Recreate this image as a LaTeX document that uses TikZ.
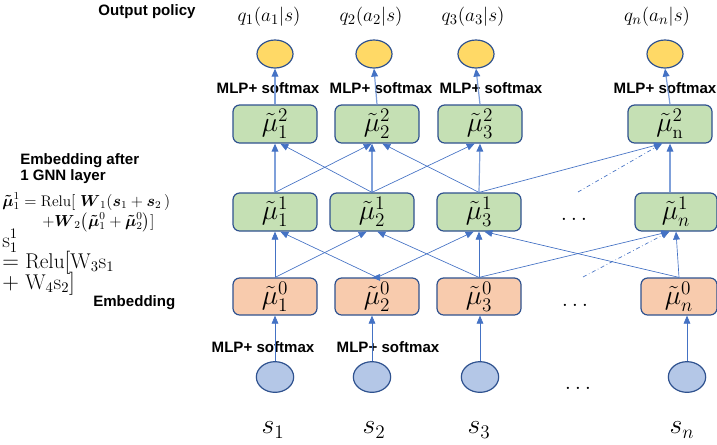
\documentclass[tikz,border=0pt]{standalone}
\usepackage{amsmath}
\usepackage{fontspec}
\setsansfont{Liberation Sans}
\usetikzlibrary{arrows.meta,shapes.geometric}
\definecolor{boxblue}{HTML}{2F528F}
\definecolor{linkblue}{HTML}{4472C4}
\definecolor{lightlink}{HTML}{7FA0DA}
\definecolor{hidgreen}{HTML}{C5E0B4}
\definecolor{embedorange}{HTML}{F8CBAD}
\definecolor{outyellow}{HTML}{FFD966}
\definecolor{inblue}{HTML}{B4C7E7}
\tikzset{
  box/.style={draw=boxblue,line width=0.9pt,rounded corners=5pt,minimum width=63pt,minimum height=28.5pt,inner sep=0pt,font=\fontsize{20}{20}\selectfont},
  hidden/.style={box,fill=hidgreen},
  embed/.style={box,fill=embedorange,minimum height=27.75pt},
  outdot/.style={ellipse,draw=boxblue,line width=0.9pt,fill=outyellow,minimum width=27pt,minimum height=21pt,inner sep=0pt},
  indot/.style={ellipse,draw=boxblue,line width=0.9pt,fill=inblue,minimum width=28pt,minimum height=23pt,inner sep=0pt},
  link/.style={draw=linkblue,line width=0.5pt,-{Triangle[length=6pt,width=5pt,color=linkblue]}},
  vlink/.style={link,draw=lightlink,line width=0.9pt},
  dlink/.style={link,dash dot},
  mlp/.style={font=\sffamily\bfseries\fontsize{11.3}{13}\selectfont,inner sep=0pt},
  qlab/.style={font=\fontsize{15.5}{15.5}\selectfont,inner sep=0pt},
  slab/.style={font=\fontsize{20}{20}\selectfont,inner sep=0pt},
  dotlab/.style={font=\fontsize{18}{18}\selectfont,inner sep=0pt},
  smallf/.style={font=\fontsize{11.5}{11.5}\selectfont,inner sep=0pt,anchor=base west},
  bigf/.style={font=\fontsize{16}{16}\selectfont,inner sep=0pt,anchor=base west}
}
\begin{document}
\begin{tikzpicture}[x=0.75pt,y=-0.75pt]
\useasboundingbox (0,0) rectangle (717,444);

\node[mlp] (title) at (147,12) {Output policy};
\node[qlab] (q1) at (269,17) {$q_1(a_1|s)$};
\node[qlab] (q2) at (371,17) {$q_2(a_2|s)$};
\node[qlab] (q3) at (473,17) {$q_3(a_3|s)$};
\node[qlab] (qn) at (657,17) {$q_n(a_n|s)$};

\node[outdot] (o1) at (275,54) {};
\node[outdot] (o2) at (374,54) {};
\node[outdot] (o3) at (476,54) {};
\node[outdot] (on) at (665,54) {};

\node[mlp] (mlp1) at (268,88) {MLP+ softmax};
\node[mlp] (mlp2) at (381,88) {MLP+ softmax};
\node[mlp] (mlp3) at (491,88) {MLP+ softmax};
\node[mlp] (mlpn) at (665,88) {MLP+ softmax};

\node[hidden] (h21) at (275,124) {$\tilde{\mu}_1^2$};
\node[hidden] (h22) at (377,124) {$\tilde{\mu}_2^2$};
\node[hidden] (h23) at (480,124) {$\tilde{\mu}_3^2$};
\node[hidden] (h2n) at (670,124) {$\tilde{\mu}_{\mathrm{n}}^2$};

\node[hidden] (h11) at (275,212) {$\tilde{\mu}_1^1$};
\node[hidden] (h12) at (372,212) {$\tilde{\mu}_2^1$};
\node[hidden] (h13) at (479,212) {$\tilde{\mu}_3^1$};
\node[hidden,minimum width=61.5pt] (h1n) at (676,212) {$\tilde{\mu}_n^1$};
\node[dotlab] (dots1) at (574,219) {$\ldots$};

\node[embed] (e1) at (275,296.5) {$\tilde{\mu}_1^0$};
\node[embed] (e2) at (377,296.5) {$\tilde{\mu}_2^0$};
\node[embed] (e3) at (479,296.5) {$\tilde{\mu}_3^0$};
\node[embed,minimum width=57pt] (eN) at (679,296.5) {$\tilde{\mu}_n^0$};
\node[dotlab] (dots0) at (575,305) {$\ldots$};

\node[mlp] (mlpa) at (263,347) {MLP+ softmax};
\node[mlp] (mlpb) at (388,347) {MLP+ softmax};

\node[indot] (i1) at (275,377) {};
\node[indot] (i2) at (372,377) {};
\node[indot] (i3) at (480,377) {};
\node[indot] (iN) at (687,377) {};
\node[dotlab] (dots2) at (578,388) {$\ldots$};

\node[slab] (s1) at (273,430) {$s_1$};
\node[slab] (s2) at (374,430) {$s_2$};
\node[slab] (s3) at (479,430) {$s_3$};
\node[slab] (sn) at (682,430) {$s_n$};

\node[mlp,anchor=base west] (gnn1) at (20,164) {Embedding after};
\node[mlp,anchor=base west] (gnn2) at (20,180) {1 GNN layer};
\node[smallf] (f1) at (2,206) {$\boldsymbol{\tilde{\mu}}_1^1=\mathrm{Relu}[\;\boldsymbol{W}_1(\boldsymbol{s}_1+\boldsymbol{s}_2\,)$};
\node[smallf] (f2) at (42,226) {$+\boldsymbol{W}_2\big(\boldsymbol{\tilde{\mu}}_1^0+\boldsymbol{\tilde{\mu}}_2^0\big)]$};
\node[bigf] (f3) at (2,247) {$\mathrm{s}_1^1$};
\node[bigf] (f4) at (2,268) {$=\mathrm{Relu}[\mathrm{W}_3\mathrm{s}_1$};
\node[bigf] (f5) at (2,289) {$+\;\mathrm{W}_4\mathrm{s}_2]$};
\node[mlp,anchor=base west] (emb) at (93,306) {Embedding};

\draw[vlink] (h21.north) -- (o1.south);
\draw[vlink] (h22.north) -- (o2.south);
\draw[vlink] (h23.north) -- (o3.south);
\draw[vlink] (h2n.north) -- (on.south);

\draw[vlink] (h11.north) -- (h21.south);
\draw[link] (h11.north) -- ([xshift=-4pt]h22.south);
\draw[link] (h12.north) -- ([xshift=4pt]h21.south);
\draw[vlink] (h12.north) -- (h12.north |- h22.south);
\draw[link] (h12.north) -- ([xshift=-4pt]h23.south);
\draw[link] (h13.north) -- ([xshift=4pt]h22.south);
\draw[vlink] (h13.north) -- (h23.south);
\draw[link] (h13.north) -- ([xshift=-6pt]h2n.south);
\draw[vlink] (h2n.south |- h1n.north) -- (h2n.south);
\coordinate (d1) at (578,192);
\draw[dlink] (d1) -- ([xshift=-6pt]h2n.south);

\draw[link] (e1.north) -- (h11.south);
\draw[link] (e1.north) -- ([xshift=-4pt]h12.south);
\draw[link] (e2.north) -- ([xshift=4pt]h11.south);
\draw[link] (e2.north) -- (e2.north -| h12.south);
\draw[link] (e2.north) -- ([xshift=-4pt]h13.south);
\draw[link] (e3.north) -- ([xshift=4pt]h12.south);
\draw[link] (e3.north) -- (h13.south);
\draw[link] (e3.north) -- ([xshift=-5pt]h1n.south);
\draw[link] (eN.north) -- ([xshift=4pt]h13.south);
\draw[link] (eN.north) -- (h1n.south);
\coordinate (d0) at (583,277);
\draw[dlink] (d0) -- ([xshift=-5pt]h1n.south);

\draw[link] (i1.north) -- (e1.south);
\draw[link] (i2.north) -- (i2.north |- e2.south);
\draw[link] (i3.north) -- (i3.north |- e3.south);
\draw[link] (iN.north) -- (iN.north |- eN.south);
\end{tikzpicture}
\end{document}
